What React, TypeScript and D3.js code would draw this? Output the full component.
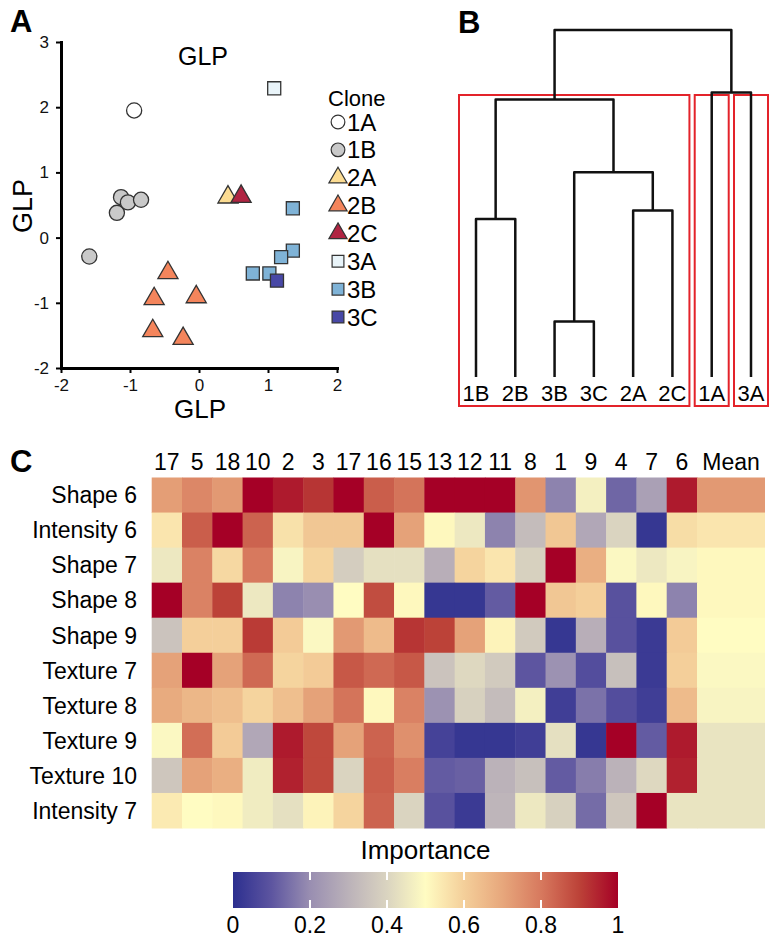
import React, { useEffect, useRef } from "react";
import * as d3 from "d3";

// panel A - GLP scatter, one list of [x, y] per clone
const cloneNames = ["1A", "1B", "2A", "2B", "2C", "3A", "3B", "3C"];
const glp1A = [[-0.94, 1.95]];
const glp1B = [[-1.13, 0.62], [-1.19, 0.38], [-1.03, 0.54], [-0.84, 0.58], [-1.59, -0.29]];
const glp2A = [[0.42, 0.62]];
const glp2B = [[-0.45, -0.54], [-0.65, -0.94], [-0.04, -0.91], [-0.67, -1.43], [-0.23, -1.55]];
const glp2C = [[0.61, 0.63]];
const glp3A = [[1.09, 2.29]];
const glp3B = [[1.36, 0.45], [1.36, -0.2], [1.19, -0.3], [0.78, -0.55], [1.02, -0.55]];
const glp3C = [[1.13, -0.66]];
const glpTicksX = [-2, -1, 0, 1, 2];
const glpTicksY = [-2, -1, 0, 1, 2, 3];

// panel B - dendrogram (merge heights relative to root)
const leafOrder = ["1B", "2B", "3B", "3C", "2A", "2C", "1A", "3A"];
const dendro = {
  h: 1.0,
  children: [
    {
      h: 0.8,
      children: [
        { h: 0.455, children: [{ name: "1B", h: 0 }, { name: "2B", h: 0 }] },
        {
          h: 0.59,
          children: [
            { h: 0.16, children: [{ name: "3B", h: 0 }, { name: "3C", h: 0 }] },
            { h: 0.48, children: [{ name: "2A", h: 0 }, { name: "2C", h: 0 }] },
          ],
        },
      ],
    },
    { h: 0.82, children: [{ name: "1A", h: 0 }, { name: "3A", h: 0 }] },
  ],
};
const clusterGroups = [["1B", "2C"], ["1A", "1A"], ["3A", "3A"]];

// panel C - importance heatmap
const featureNames = [
  "Shape 6", "Intensity 6", "Shape 7", "Shape 8", "Shape 9",
  "Texture 7", "Texture 8", "Texture 9", "Texture 10", "Intensity 7",
];
const columnLabels = ["17", "5", "18", "10", "2", "3", "17", "16", "15", "13", "12", "11", "8", "1", "9", "4", "7", "6"];
const importance = [
  [0.72, 0.77, 0.73, 1.0, 0.96, 0.92, 1.0, 0.85, 0.81, 1.0, 1.0, 1.0, 0.74, 0.18, 0.47, 0.13, 0.25, 0.96],
  [0.55, 0.85, 1.0, 0.84, 0.56, 0.62, 0.62, 1.0, 0.71, 0.51, 0.45, 0.18, 0.33, 0.62, 0.27, 0.4, 0.02, 0.57],
  [0.45, 0.78, 0.58, 0.8, 0.48, 0.59, 0.38, 0.43, 0.43, 0.29, 0.59, 0.55, 0.39, 1.0, 0.68, 0.49, 0.45, 0.48],
  [1.0, 0.78, 0.9, 0.45, 0.18, 0.2, 0.5, 0.88, 0.51, 0.02, 0.02, 0.11, 1.0, 0.62, 0.6, 0.09, 0.51, 0.18],
  [0.35, 0.6, 0.6, 0.91, 0.61, 0.49, 0.73, 0.65, 0.92, 0.9, 0.71, 0.52, 0.37, 0.02, 0.29, 0.09, 0.03, 0.61],
  [0.71, 1.0, 0.71, 0.83, 0.59, 0.61, 0.86, 0.83, 0.86, 0.35, 0.41, 0.37, 0.1, 0.21, 0.08, 0.34, 0.03, 0.6],
  [0.69, 0.66, 0.64, 0.59, 0.64, 0.71, 0.81, 0.51, 0.78, 0.21, 0.39, 0.33, 0.47, 0.04, 0.15, 0.08, 0.04, 0.65],
  [0.49, 0.82, 0.61, 0.27, 0.96, 0.89, 0.71, 0.84, 0.75, 0.05, 0.02, 0.02, 0.04, 0.43, 0.02, 1.0, 0.11, 0.96],
  [0.36, 0.71, 0.68, 0.46, 0.95, 0.89, 0.4, 0.85, 0.79, 0.11, 0.12, 0.3, 0.34, 0.11, 0.17, 0.3, 0.41, 0.95],
  [0.54, 0.5, 0.51, 0.46, 0.43, 0.52, 0.59, 0.84, 0.4, 0.09, 0.03, 0.31, 0.45, 0.39, 0.14, 0.36, 1.0, 0.44],
];
const meanImportance = [0.73, 0.55, 0.51, 0.51, 0.5, 0.49, 0.48, 0.44, 0.44, 0.44];
const colorbarTicks = [0, 0.2, 0.4, 0.6, 0.8, 1];

// styles
const FONT = "'Liberation Sans', Arial, Helvetica, sans-serif";
const NARROW = "'Liberation Sans Narrow', 'Liberation Sans', Arial, sans-serif";
const cloneStyle = {
  "1A": { shape: d3.symbolCircle, fill: "#ffffff" },
  "1B": { shape: d3.symbolCircle, fill: "#c9c9c9" },
  "2A": { shape: d3.symbolTriangle, fill: "#fcdc92" },
  "2B": { shape: d3.symbolTriangle, fill: "#f4855c" },
  "2C": { shape: d3.symbolTriangle, fill: "#b02442" },
  "3A": { shape: d3.symbolSquare, fill: "#e9f4f9" },
  "3B": { shape: d3.symbolSquare, fill: "#7fb3d7" },
  "3C": { shape: d3.symbolSquare, fill: "#4848a6" },
};
const glpData = { "1A": glp1A, "1B": glp1B, "2A": glp2A, "2B": glp2B, "2C": glp2C, "3A": glp3A, "3B": glp3B, "3C": glp3C };

const importanceColor = d3
  .scaleLinear<string>()
  .domain([0, 0.1, 0.2, 0.3, 0.4, 0.5, 0.6, 0.7, 0.8, 0.9, 1])
  .range(["#2c2f8f", "#5d55a0", "#998eb1", "#bbb2b9", "#dad4c0", "#fffcc2", "#f4cf9a", "#e7a77c", "#d7795e", "#bc4238", "#a50026"])
  .interpolate(d3.interpolateRgb)
  .clamp(true);

const symbolSize = { circle: 180, triangle: 175, square: 170 };

function sizeFor(shape) {
  if (shape === d3.symbolTriangle) return symbolSize.triangle;
  if (shape === d3.symbolSquare) return symbolSize.square;
  return symbolSize.circle;
}

const App = () => {
  const svgRef = useRef(null);

  useEffect(() => {
    const svg = d3.select(svgRef.current);
    svg.selectAll("*").remove();
    svg.style("font-family", FONT);

    // panel letters
    [["A", 10, 32], ["B", 458, 33], ["C", 10, 472]].forEach(([t, px, py]) => {
      svg.append("text").attr("x", px).attr("y", py).attr("font-size", 31).attr("font-weight", "bold").text(t);
    });

    // ---------------- A ----------------
    const x = d3.scaleLinear().domain([-2, 2]).range([61, 337]);
    const y = d3.scaleLinear().domain([-2, 3]).range([368, 42]);
    const a = svg.append("g");

    const yAxis = a.append("g").attr("transform", `translate(${x(-2)},0)`)
      .call(d3.axisLeft(y).tickValues(glpTicksY).tickSize(5).tickSizeOuter(0).tickPadding(7).tickFormat(d => String(d)));
    const xAxis = a.append("g").attr("transform", `translate(0,${y(-2)})`)
      .call(d3.axisBottom(x).tickValues(glpTicksX).tickSize(5).tickSizeOuter(0).tickPadding(6).tickFormat(d => String(d)));
    [yAxis, xAxis].forEach(ax => {
      ax.select(".domain").attr("stroke-width", 3).attr("stroke-linecap", "square");
      ax.selectAll(".tick line").attr("stroke-width", 2);
      ax.selectAll(".tick text").attr("font-size", 17).attr("font-family", NARROW).attr("fill", "#111");
    });

    a.append("text").attr("x", 203).attr("y", 65).attr("text-anchor", "middle").attr("font-size", 25).text("GLP");
    a.append("text").attr("x", 200).attr("y", 418).attr("text-anchor", "middle").attr("font-size", 26).text("GLP");
    a.append("text").attr("transform", "translate(32,206) rotate(-90)").attr("text-anchor", "middle").attr("font-size", 27).text("GLP");

    cloneNames.forEach(c => {
      const st = cloneStyle[c];
      a.append("g").selectAll("path")
        .data(glpData[c])
        .enter()
        .append("path")
        .attr("transform", d => `translate(${x(d[0])},${y(d[1])})`)
        .attr("d", d3.symbol().type(st.shape).size(sizeFor(st.shape)))
        .attr("fill", st.fill)
        .attr("stroke", "#333")
        .attr("stroke-width", 1.3);
    });

    // legend
    const legY = d3.scalePoint().domain(cloneNames).range([122, 317]);
    a.append("text").attr("x", 328).attr("y", 106).attr("font-size", 22).text("Clone");
    cloneNames.forEach(c => {
      const st = cloneStyle[c];
      a.append("path")
        .attr("transform", `translate(338,${legY(c)})`)
        .attr("d", d3.symbol().type(st.shape).size(sizeFor(st.shape) * 0.82))
        .attr("fill", st.fill)
        .attr("stroke", "#333")
        .attr("stroke-width", 1.2);
      a.append("text").attr("x", 347).attr("y", legY(c) + 8.5).attr("font-size", 24).text(c);
    });

    // ---------------- B ----------------
    const b = svg.append("g");
    const lx = d3.scalePoint().domain(leafOrder).range([476, 751]);
    const hy = d3.scaleLinear().domain([0, 1]).range([377, 30]);
    const root = d3.hierarchy(dendro);
    root.eachAfter(n => {
      n.px = n.children ? d3.mean(n.children, ch => ch.px) : lx(n.data.name);
    });

    // red cluster boxes
    clusterGroups.forEach(([first, last]) => {
      b.append("rect")
        .attr("x", lx(first) - 17)
        .attr("y", 95)
        .attr("width", lx(last) - lx(first) + 34)
        .attr("height", 311)
        .attr("fill", "none")
        .attr("stroke", "#e3232a")
        .attr("stroke-width", 2);
    });

    root.each(n => {
      if (!n.children) return;
      const yy = hy(n.data.h);
      const [c0, c1] = n.children;
      b.append("path")
        .attr("d", `M${c0.px},${hy(c0.data.h)}V${yy}H${c1.px}V${hy(c1.data.h)}`)
        .attr("fill", "none")
        .attr("stroke", "#111")
        .attr("stroke-width", 2.5)
        .attr("stroke-linejoin", "round");
    });

    leafOrder.forEach(l => {
      b.append("text").attr("x", lx(l)).attr("y", 401).attr("text-anchor", "middle").attr("font-size", 22).text(l);
    });

    // ---------------- C ----------------
    const c = svg.append("g");
    const cx = d3.scaleBand().domain(d3.range(columnLabels.length)).range([151.7, 697]);
    const ry = d3.scaleBand().domain(featureNames).range([477.5, 828]);
    const meanX0 = cx.range()[1];
    const meanX1 = 765;

    featureNames.forEach((f, i) => {
      c.append("g").selectAll("rect")
        .data(importance[i])
        .enter()
        .append("rect")
        .attr("x", (d, j) => cx(j))
        .attr("y", ry(f))
        .attr("width", cx.bandwidth() + 0.5)
        .attr("height", ry.bandwidth() + 0.5)
        .attr("fill", d => importanceColor(d));
      c.append("rect")
        .attr("x", meanX0)
        .attr("y", ry(f))
        .attr("width", meanX1 - meanX0)
        .attr("height", ry.bandwidth() + 0.5)
        .attr("fill", importanceColor(meanImportance[i]));
      c.append("text")
        .attr("x", 137)
        .attr("y", ry(f) + ry.bandwidth() / 2)
        .attr("dy", "0.36em")
        .attr("text-anchor", "end")
        .attr("font-size", 23)
        .text(f);
    });

    columnLabels.forEach((lab, j) => {
      c.append("text")
        .attr("x", cx(j) + cx.bandwidth() / 2)
        .attr("y", 470)
        .attr("text-anchor", "middle")
        .attr("font-size", 23)
        .text(lab);
    });
    c.append("text").attr("x", (meanX0 + meanX1) / 2).attr("y", 470).attr("text-anchor", "middle").attr("font-size", 23).text("Mean");

    // colour bar
    const bx = d3.scaleLinear().domain([0, 1]).range([233, 618]);
    const grad = svg.append("defs").append("linearGradient").attr("id", "impGrad");
    d3.range(0, 1.0001, 0.05).forEach(t => {
      grad.append("stop").attr("offset", `${t * 100}%`).attr("stop-color", importanceColor(t));
    });
    c.append("rect").attr("x", bx(0)).attr("y", 872).attr("width", bx(1) - bx(0)).attr("height", 36).attr("fill", "url(#impGrad)");
    colorbarTicks.slice(1, -1).forEach(t => {
      c.append("line").attr("x1", bx(t)).attr("x2", bx(t)).attr("y1", 872).attr("y2", 880).attr("stroke", "#fff").attr("stroke-width", 2);
      c.append("line").attr("x1", bx(t)).attr("x2", bx(t)).attr("y1", 900).attr("y2", 908).attr("stroke", "#fff").attr("stroke-width", 2);
    });
    colorbarTicks.forEach(t => {
      c.append("text").attr("x", bx(t)).attr("y", 933).attr("text-anchor", "middle").attr("font-size", 23).attr("font-family", NARROW).text(String(t));
    });
    c.append("text").attr("x", (bx(0) + bx(1)) / 2).attr("y", 859).attr("text-anchor", "middle").attr("font-size", 26).text("Importance");
  }, []);

  return (
    <svg ref={svgRef} width={780} height={944} style={{ position: "absolute", left: 0, top: 0, background: "#fff" }}></svg>
  );
};

export default App;
